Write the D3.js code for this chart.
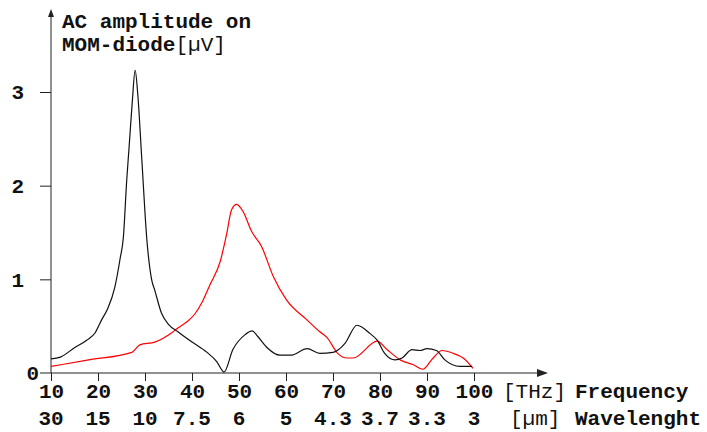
<!DOCTYPE html>
<html>
<head>
<meta charset="utf-8">
<script src="https://cdn.jsdelivr.net/npm/d3@7"></script>
<style>
  body { margin: 0; background: #fff; }
  text { font-family: "Liberation Mono", "Courier New", monospace; }
</style>
</head>
<body>
<div id="chart"></div>
<script>
// frequency ticks [THz] and matching wavelength labels [µm]
const freqTicks = [10, 20, 30, 40, 50, 60, 70, 80, 90, 100];
const waveLabels = ["30", "15", "10", "7.5", "6", "5", "4.3", "3.7", "3.3", "3"];
const ampTicks = [0, 1, 2, 3];

// black trace
const blackFreq = [10, 12, 15, 17.6, 19.4, 20.8, 22, 23.6, 24.7, 25.4, 26.1, 26.6, 27.3, 27.9,
    28.5, 29.3, 30.4, 31.4, 32.1, 33.5, 35, 37, 40, 43.2, 45.3, 46.8, 48.7, 51.3, 52.8, 54, 56,
    58.7, 61, 64.5, 67.2, 70, 72.6, 75.1, 77.9, 79.4, 81, 83.2, 84.7, 86.8, 88.5, 90, 92, 93.8, 97, 99.6];
const blackAmp = [0.15, 0.17, 0.27, 0.35, 0.43, 0.57, 0.68, 0.92, 1.22, 1.45, 2.05, 2.4, 2.9, 3.23,
    2.95, 2.3, 1.42, 1.0, 0.88, 0.64, 0.52, 0.44, 0.33, 0.22, 0.12, 0.01, 0.25, 0.41, 0.45, 0.39, 0.27,
    0.19, 0.19, 0.26, 0.21, 0.22, 0.32, 0.51, 0.42, 0.35, 0.21, 0.14, 0.16, 0.25, 0.24, 0.26, 0.24, 0.14, 0.07, 0.07];

// red trace
const redFreq = [10, 18, 27.2, 28.9, 32.1, 35.7, 37, 39, 40.6, 42.2, 43.8, 46, 47.4, 48.4, 49.5, 50.9,
    52.7, 54.8, 57.3, 60.1, 64.4, 67.2, 68.7, 71, 73, 74.3, 79.4, 81.5, 84.3, 87, 89.1, 91.3, 93.2, 95.6, 97.7, 99.8];
const redAmp = [0.07, 0.14, 0.22, 0.30, 0.33, 0.43, 0.48, 0.55, 0.63, 0.76, 0.94, 1.19, 1.49, 1.74, 1.80, 1.72,
    1.51, 1.35, 1.03, 0.78, 0.57, 0.44, 0.38, 0.21, 0.16, 0.16, 0.34, 0.25, 0.14, 0.09, 0.04, 0.16, 0.24, 0.21, 0.16, 0.05];

const width = 707, height = 432;
const axisColor = "#222";
const fontFamily = "'Liberation Mono', 'Courier New', monospace";

const svg = d3.select("#chart")
    .append("svg")
    .attr("width", width)
    .attr("height", height);

const x = d3.scaleLinear().domain([10, 100]).range([51, 474]);
const y = d3.scaleLinear().domain([0, 3]).range([373, 92]);

// axes lines with arrow heads
svg.append("line")
    .attr("x1", 40).attr("x2", 546)
    .attr("y1", y(0)).attr("y2", y(0))
    .attr("stroke", axisColor);
svg.append("path")
    .attr("d", `M548,${y(0)} L537,${y(0) - 4} L537,${y(0) + 4} Z`)
    .attr("fill", axisColor);

svg.append("line")
    .attr("x1", x(10)).attr("x2", x(10))
    .attr("y1", y(0)).attr("y2", 12)
    .attr("stroke", axisColor);
svg.append("path")
    .attr("d", `M${x(10)},9 L${x(10) - 3},17 L${x(10) + 3},17 Z`)
    .attr("fill", axisColor);

// x axis ticks
const xAxis = svg.append("g")
    .attr("transform", `translate(0, ${y(0)})`)
    .call(d3.axisBottom(x).tickValues(freqTicks).tickSize(8).tickFormat(d3.format("d")));
xAxis.select(".domain").remove();
xAxis.selectAll("line").attr("stroke", axisColor);
xAxis.selectAll("text")
    .attr("y", 25).attr("dy", 0)
    .attr("fill", "#111")
    .style("font-family", fontFamily)
    .style("font-size", "21px")
    .style("font-weight", "bold");

// wavelength row
svg.append("g").selectAll("text")
    .data(freqTicks)
    .join("text")
    .attr("x", d => x(d))
    .attr("y", 425)
    .attr("text-anchor", "middle")
    .attr("font-size", 21)
    .attr("font-weight", "bold")
    .attr("fill", "#111")
    .text((d, i) => waveLabels[i]);

// y axis ticks
const yAxis = svg.append("g")
    .attr("transform", `translate(${x(10)}, 0)`)
    .call(d3.axisLeft(y).tickValues(ampTicks).tickSize(11).tickPadding(16).tickFormat(d3.format("d")));
yAxis.select(".domain").remove();
yAxis.selectAll("line").attr("stroke", axisColor);
yAxis.selectAll("text")
    .attr("fill", "#111")
    .style("font-family", fontFamily)
    .style("font-size", "21px")
    .style("font-weight", "bold");
// the zero label sits closer to the axis
yAxis.selectAll(".tick").filter(d => d === 0).select("text").attr("x", -12);
yAxis.selectAll(".tick").filter(d => d === 0).select("line").remove();

// axis titles
const title = svg.append("text").attr("x", 62).attr("font-size", 21).attr("fill", "#111");
title.append("tspan").attr("x", 62).attr("y", 28).attr("font-weight", "bold").text("AC amplitude on");
title.append("tspan").attr("x", 62).attr("y", 51).attr("font-weight", "bold").text("MOM-diode");
title.append("tspan").text("[µV]");

svg.append("text").attr("x", 503).attr("y", 398).attr("font-size", 21).attr("fill", "#111").text("[THz]");
svg.append("text").attr("x", 575).attr("y", 398).attr("font-size", 21).attr("font-weight", "bold").attr("fill", "#111").text("Frequency");
svg.append("text").attr("x", 510).attr("y", 425).attr("font-size", 21).attr("fill", "#111").text("[µm]");
svg.append("text").attr("x", 575).attr("y", 425).attr("font-size", 21).attr("font-weight", "bold").attr("fill", "#111").text("Wavelenght");

// traces
const line = d3.line()
    .x(d => x(d[0]))
    .y(d => y(d[1]))
    .curve(d3.curveMonotoneX);

svg.append("path")
    .datum(redFreq.map((f, i) => [f, redAmp[i]]))
    .attr("d", line)
    .attr("fill", "none")
    .attr("stroke", "#ff0000")
    .attr("stroke-width", 1.2);

svg.append("path")
    .datum(blackFreq.map((f, i) => [f, blackAmp[i]]))
    .attr("d", line)
    .attr("fill", "none")
    .attr("stroke", "#111")
    .attr("stroke-width", 1.2);
</script>
</body>
</html>
